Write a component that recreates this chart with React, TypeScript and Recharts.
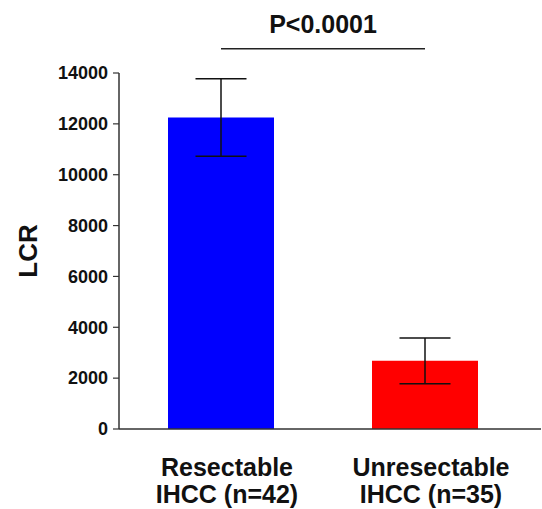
import React from 'react';
import { BarChart, Bar, XAxis, YAxis, ErrorBar, Cell, ReferenceLine } from 'recharts';

const categories = ['Resectable', 'Unresectable'];
const groupLine2 = ['IHCC (n=42)', 'IHCC (n=35)'];
const lcrMean = [12250, 2680];
const lcrError = [1520, 900];
const barColors = ['#0000FF', '#FF0000'];
const yTicks = [0, 2000, 4000, 6000, 8000, 10000, 12000, 14000];
const pValueLabel = 'P<0.0001';
const bracketLevel = 14950;
const yAxisTitle = 'LCR';

const data = categories.map((c, i) => ({ name: c, lcr: lcrMean[i], err: lcrError[i] }));

const FONT = '"Liberation Sans", Arial, Helvetica, sans-serif';

const XTick = (props: any) => {
  const { x, y, payload } = props;
  const idx = categories.indexOf(payload.value);
  return (
    <text x={x + 6} y={y} textAnchor="middle" fontFamily={FONT} fontWeight="bold" fontSize={25} fill="#111">
      <tspan x={x + 6} y={y + 47}>{payload.value}</tspan>
      <tspan x={x + 6} y={y + 74}>{groupLine2[idx]}</tspan>
    </text>
  );
};

const YTick = (props: any) => {
  const { x, y, payload } = props;
  return (
    <text x={x} y={y} dy="0.35em" textAnchor="end" fontFamily={FONT} fontWeight="bold" fontSize={18} fill="#111">
      {payload.value}
    </text>
  );
};

const YTitle = (props: any) => {
  const vb = props.viewBox || { x: 0, y: 0, width: 0, height: 0 };
  const cx = vb.x + 28;
  const cy = vb.y + vb.height / 2;
  return (
    <text x={cx} y={cy} dy="0.35em" textAnchor="middle" transform={`rotate(-90 ${cx} ${cy})`}
      fontFamily={FONT} fontWeight="bold" fontSize={26} fill="#111">
      {yAxisTitle}
    </text>
  );
};

const PLabel = (props: any) => {
  const vb = props.viewBox || { x: 0, y: 0, width: 0, height: 0 };
  const cx = vb.x + (vb.width || 0) / 2;
  return (
    <text x={cx} y={vb.y - 16} textAnchor="middle" fontFamily={FONT} fontWeight="bold" fontSize={25} fill="#111">
      {pValueLabel}
    </text>
  );
};

export default function App() {
  return (
    <div style={{ position: 'absolute', left: 0, top: 0, width: 542, height: 509, background: '#fff' }}>
      <BarChart width={542} height={509} data={data} margin={{ top: 73, right: 1, left: 0, bottom: 0 }}>
        <XAxis
          dataKey="name"
          height={80}
          tickLine={false}
          tickSize={0}
          tickMargin={0}
          padding={{ left: 0, right: 14 }}
          axisLine={{ stroke: '#333', strokeWidth: 1.5 }}
          tick={<XTick />}
          interval={0}
        />
        <YAxis
          width={119}
          domain={[0, 14000]}
          ticks={yTicks}
          tickSize={6}
          tickMargin={5}
          axisLine={{ stroke: '#333', strokeWidth: 1.5 }}
          tickLine={{ stroke: '#333', strokeWidth: 1.2 }}
          tick={<YTick />}
          label={<YTitle />}
          interval={0}
        />
        <Bar dataKey="lcr" barSize={106} isAnimationActive={false}>
          {data.map((d, i) => (
            <Cell key={d.name} fill={barColors[i]} />
          ))}
          <ErrorBar dataKey="err" width={25.5} stroke="#111" strokeWidth={1.5} isAnimationActive={false} />
        </Bar>
        <ReferenceLine
          segment={[{ x: categories[0], y: bracketLevel }, { x: categories[1], y: bracketLevel }]}
          ifOverflow="visible"
          stroke="#222"
          strokeWidth={1.5}
          label={<PLabel />}
        />
      </BarChart>
    </div>
  );
}
